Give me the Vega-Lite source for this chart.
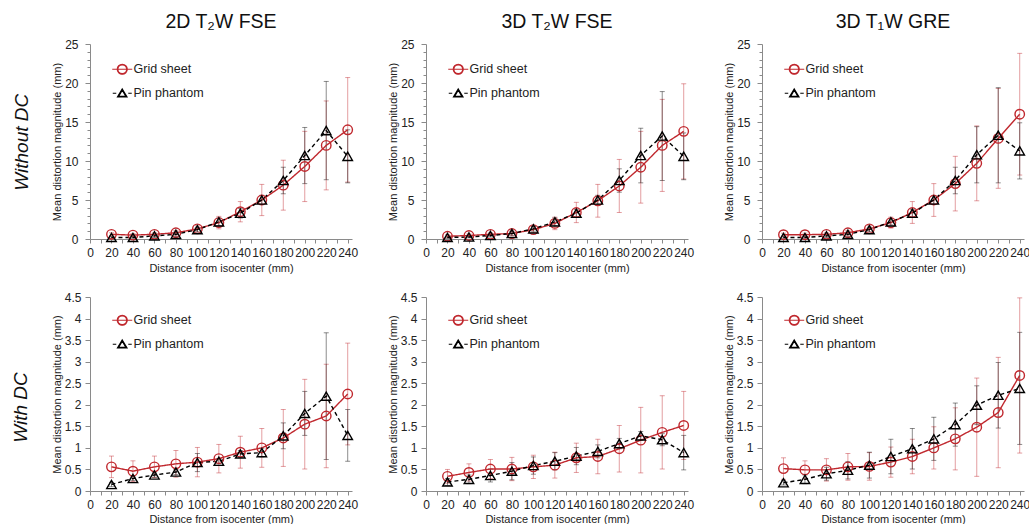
{
"$schema": "https://vega.github.io/schema/vega-lite/v6.json",
"padding": {"left": 12, "top": 11, "right": 0, "bottom": 0},
"config": {
  "font": "Liberation Sans",
  "view": {"stroke": null},
  "axis": {"grid": false, "labelFontSize": 12, "titleFontSize": 11, "titleFontWeight": "normal", "labelColor": "#222222", "titleColor": "#222222", "domainColor": "#8a8a8a", "tickColor": "#8a8a8a", "labelFont": "Liberation Sans", "titleFont": "Liberation Sans"},
  "title": {"fontSize": 19.5, "fontWeight": "normal", "color": "#111111", "offset": 6, "font": "Liberation Sans"}
},
"datasets": {"d": [
{"p":1,"s":"Grid sheet","d":20,"m":0.6,"e":0.2},{"p":1,"s":"Grid sheet","d":40,"m":0.5,"e":0.2},{"p":1,"s":"Grid sheet","d":60,"m":0.6,"e":0.2},{"p":1,"s":"Grid sheet","d":80,"m":0.8,"e":0.3},{"p":1,"s":"Grid sheet","d":100,"m":1.3,"e":0.4},{"p":1,"s":"Grid sheet","d":120,"m":2.1,"e":0.8},{"p":1,"s":"Grid sheet","d":140,"m":3.5,"e":1.3},{"p":1,"s":"Grid sheet","d":160,"m":5.0,"e":2.0},{"p":1,"s":"Grid sheet","d":180,"m":6.9,"e":3.2},{"p":1,"s":"Grid sheet","d":200,"m":9.3,"e":4.5},{"p":1,"s":"Grid sheet","d":220,"m":12.0,"e":5.7},{"p":1,"s":"Grid sheet","d":240,"m":14.0,"e":6.7},
{"p":1,"s":"Pin phantom","d":20,"m":0.2,"e":0.1},{"p":1,"s":"Pin phantom","d":40,"m":0.2,"e":0.1},{"p":1,"s":"Pin phantom","d":60,"m":0.4,"e":0.2},{"p":1,"s":"Pin phantom","d":80,"m":0.6,"e":0.3},{"p":1,"s":"Pin phantom","d":100,"m":1.2,"e":0.3},{"p":1,"s":"Pin phantom","d":120,"m":2.2,"e":0.5},{"p":1,"s":"Pin phantom","d":140,"m":3.3,"e":0.6},{"p":1,"s":"Pin phantom","d":160,"m":5.0,"e":0.6},{"p":1,"s":"Pin phantom","d":180,"m":7.5,"e":1.7},{"p":1,"s":"Pin phantom","d":200,"m":10.7,"e":3.6},{"p":1,"s":"Pin phantom","d":220,"m":13.9,"e":6.3},{"p":1,"s":"Pin phantom","d":240,"m":10.6,"e":3.4},
{"p":2,"s":"Grid sheet","d":20,"m":0.35,"e":0.2},{"p":2,"s":"Grid sheet","d":40,"m":0.45,"e":0.2},{"p":2,"s":"Grid sheet","d":60,"m":0.6,"e":0.2},{"p":2,"s":"Grid sheet","d":80,"m":0.7,"e":0.3},{"p":2,"s":"Grid sheet","d":100,"m":1.2,"e":0.4},{"p":2,"s":"Grid sheet","d":120,"m":2.0,"e":0.8},{"p":2,"s":"Grid sheet","d":140,"m":3.4,"e":1.3},{"p":2,"s":"Grid sheet","d":160,"m":4.9,"e":2.1},{"p":2,"s":"Grid sheet","d":180,"m":6.8,"e":3.4},{"p":2,"s":"Grid sheet","d":200,"m":9.2,"e":4.6},{"p":2,"s":"Grid sheet","d":220,"m":12.0,"e":5.9},{"p":2,"s":"Grid sheet","d":240,"m":13.8,"e":6.1},
{"p":2,"s":"Pin phantom","d":20,"m":0.2,"e":0.1},{"p":2,"s":"Pin phantom","d":40,"m":0.25,"e":0.1},{"p":2,"s":"Pin phantom","d":60,"m":0.45,"e":0.2},{"p":2,"s":"Pin phantom","d":80,"m":0.7,"e":0.3},{"p":2,"s":"Pin phantom","d":100,"m":1.3,"e":0.3},{"p":2,"s":"Pin phantom","d":120,"m":2.2,"e":0.5},{"p":2,"s":"Pin phantom","d":140,"m":3.3,"e":0.5},{"p":2,"s":"Pin phantom","d":160,"m":5.0,"e":0.6},{"p":2,"s":"Pin phantom","d":180,"m":7.5,"e":1.5},{"p":2,"s":"Pin phantom","d":200,"m":10.7,"e":3.5},{"p":2,"s":"Pin phantom","d":220,"m":13.2,"e":5.7},{"p":2,"s":"Pin phantom","d":240,"m":10.6,"e":3.0},
{"p":3,"s":"Grid sheet","d":20,"m":0.55,"e":0.2},{"p":3,"s":"Grid sheet","d":40,"m":0.55,"e":0.2},{"p":3,"s":"Grid sheet","d":60,"m":0.6,"e":0.2},{"p":3,"s":"Grid sheet","d":80,"m":0.8,"e":0.3},{"p":3,"s":"Grid sheet","d":100,"m":1.3,"e":0.4},{"p":3,"s":"Grid sheet","d":120,"m":2.1,"e":0.7},{"p":3,"s":"Grid sheet","d":140,"m":3.4,"e":1.4},{"p":3,"s":"Grid sheet","d":160,"m":5.0,"e":2.1},{"p":3,"s":"Grid sheet","d":180,"m":7.1,"e":3.5},{"p":3,"s":"Grid sheet","d":200,"m":9.7,"e":4.8},{"p":3,"s":"Grid sheet","d":220,"m":12.9,"e":6.4},{"p":3,"s":"Grid sheet","d":240,"m":16.0,"e":7.8},
{"p":3,"s":"Pin phantom","d":20,"m":0.2,"e":0.1},{"p":3,"s":"Pin phantom","d":40,"m":0.2,"e":0.1},{"p":3,"s":"Pin phantom","d":60,"m":0.4,"e":0.2},{"p":3,"s":"Pin phantom","d":80,"m":0.6,"e":0.3},{"p":3,"s":"Pin phantom","d":100,"m":1.2,"e":0.3},{"p":3,"s":"Pin phantom","d":120,"m":2.2,"e":0.4},{"p":3,"s":"Pin phantom","d":140,"m":3.3,"e":0.5},{"p":3,"s":"Pin phantom","d":160,"m":5.0,"e":0.5},{"p":3,"s":"Pin phantom","d":180,"m":7.5,"e":1.7},{"p":3,"s":"Pin phantom","d":200,"m":10.8,"e":3.6},{"p":3,"s":"Pin phantom","d":220,"m":13.3,"e":6.1},{"p":3,"s":"Pin phantom","d":240,"m":11.3,"e":3.6},
{"p":4,"s":"Grid sheet","d":20,"m":0.56,"e":0.25},{"p":4,"s":"Grid sheet","d":40,"m":0.46,"e":0.24},{"p":4,"s":"Grid sheet","d":60,"m":0.56,"e":0.25},{"p":4,"s":"Grid sheet","d":80,"m":0.63,"e":0.31},{"p":4,"s":"Grid sheet","d":100,"m":0.67,"e":0.34},{"p":4,"s":"Grid sheet","d":120,"m":0.75,"e":0.33},{"p":4,"s":"Grid sheet","d":140,"m":0.9,"e":0.37},{"p":4,"s":"Grid sheet","d":160,"m":1.0,"e":0.45},{"p":4,"s":"Grid sheet","d":180,"m":1.23,"e":0.66},{"p":4,"s":"Grid sheet","d":200,"m":1.55,"e":1.04},{"p":4,"s":"Grid sheet","d":220,"m":1.74,"e":1.2},{"p":4,"s":"Grid sheet","d":240,"m":2.25,"e":1.18},
{"p":4,"s":"Pin phantom","d":20,"m":0.15,"e":0.05},{"p":4,"s":"Pin phantom","d":40,"m":0.29,"e":0.05},{"p":4,"s":"Pin phantom","d":60,"m":0.37,"e":0.05},{"p":4,"s":"Pin phantom","d":80,"m":0.44,"e":0.06},{"p":4,"s":"Pin phantom","d":100,"m":0.66,"e":0.21},{"p":4,"s":"Pin phantom","d":120,"m":0.69,"e":0.06},{"p":4,"s":"Pin phantom","d":140,"m":0.86,"e":0.08},{"p":4,"s":"Pin phantom","d":160,"m":0.89,"e":0.1},{"p":4,"s":"Pin phantom","d":180,"m":1.28,"e":0.3},{"p":4,"s":"Pin phantom","d":200,"m":1.8,"e":0.51},{"p":4,"s":"Pin phantom","d":220,"m":2.2,"e":1.47},{"p":4,"s":"Pin phantom","d":240,"m":1.29,"e":0.6},
{"p":5,"s":"Grid sheet","d":20,"m":0.34,"e":0.16},{"p":5,"s":"Grid sheet","d":40,"m":0.43,"e":0.2},{"p":5,"s":"Grid sheet","d":60,"m":0.51,"e":0.22},{"p":5,"s":"Grid sheet","d":80,"m":0.51,"e":0.27},{"p":5,"s":"Grid sheet","d":100,"m":0.56,"e":0.27},{"p":5,"s":"Grid sheet","d":120,"m":0.6,"e":0.3},{"p":5,"s":"Grid sheet","d":140,"m":0.77,"e":0.34},{"p":5,"s":"Grid sheet","d":160,"m":0.8,"e":0.4},{"p":5,"s":"Grid sheet","d":180,"m":0.98,"e":0.54},{"p":5,"s":"Grid sheet","d":200,"m":1.18,"e":0.76},{"p":5,"s":"Grid sheet","d":220,"m":1.36,"e":0.85},{"p":5,"s":"Grid sheet","d":240,"m":1.52,"e":0.79},
{"p":5,"s":"Pin phantom","d":20,"m":0.21,"e":0.08},{"p":5,"s":"Pin phantom","d":40,"m":0.27,"e":0.1},{"p":5,"s":"Pin phantom","d":60,"m":0.36,"e":0.15},{"p":5,"s":"Pin phantom","d":80,"m":0.46,"e":0.2},{"p":5,"s":"Pin phantom","d":100,"m":0.59,"e":0.2},{"p":5,"s":"Pin phantom","d":120,"m":0.69,"e":0.2},{"p":5,"s":"Pin phantom","d":140,"m":0.81,"e":0.2},{"p":5,"s":"Pin phantom","d":160,"m":0.92,"e":0.15},{"p":5,"s":"Pin phantom","d":180,"m":1.1,"e":0.12},{"p":5,"s":"Pin phantom","d":200,"m":1.28,"e":0.1},{"p":5,"s":"Pin phantom","d":220,"m":1.19,"e":0.14},{"p":5,"s":"Pin phantom","d":240,"m":0.89,"e":0.4},
{"p":6,"s":"Grid sheet","d":20,"m":0.52,"e":0.25},{"p":6,"s":"Grid sheet","d":40,"m":0.49,"e":0.21},{"p":6,"s":"Grid sheet","d":60,"m":0.49,"e":0.26},{"p":6,"s":"Grid sheet","d":80,"m":0.56,"e":0.31},{"p":6,"s":"Grid sheet","d":100,"m":0.57,"e":0.32},{"p":6,"s":"Grid sheet","d":120,"m":0.67,"e":0.35},{"p":6,"s":"Grid sheet","d":140,"m":0.8,"e":0.4},{"p":6,"s":"Grid sheet","d":160,"m":1.0,"e":0.49},{"p":6,"s":"Grid sheet","d":180,"m":1.21,"e":0.72},{"p":6,"s":"Grid sheet","d":200,"m":1.48,"e":1.14},{"p":6,"s":"Grid sheet","d":220,"m":1.82,"e":1.28},{"p":6,"s":"Grid sheet","d":240,"m":2.68,"e":1.8},
{"p":6,"s":"Pin phantom","d":20,"m":0.19,"e":0.05},{"p":6,"s":"Pin phantom","d":40,"m":0.27,"e":0.1},{"p":6,"s":"Pin phantom","d":60,"m":0.4,"e":0.15},{"p":6,"s":"Pin phantom","d":80,"m":0.48,"e":0.2},{"p":6,"s":"Pin phantom","d":100,"m":0.6,"e":0.3},{"p":6,"s":"Pin phantom","d":120,"m":0.8,"e":0.4},{"p":6,"s":"Pin phantom","d":140,"m":0.98,"e":0.47},{"p":6,"s":"Pin phantom","d":160,"m":1.21,"e":0.5},{"p":6,"s":"Pin phantom","d":180,"m":1.54,"e":0.5},{"p":6,"s":"Pin phantom","d":200,"m":1.99,"e":0.45},{"p":6,"s":"Pin phantom","d":220,"m":2.22,"e":0.76},{"p":6,"s":"Pin phantom","d":240,"m":2.38,"e":1.3}
]},
"resolve": {"legend": {"color": "independent"}},
"spacing": 18,
"vconcat": [
{
 "title": {"text": "Without DC", "orient": "left", "fontSize": 19, "fontStyle": "italic", "fontWeight": "normal", "anchor": "middle", "offset": 20, "color": "#111111"},
 "spacing": 29,
 "resolve": {"legend": {"color": "independent"}},
 "hconcat": [
  {
   "title": {"text": "2D T₂W FSE"},
   "width": 262, "height": 195,
   "data": {"name": "d"},
   "transform": [{"filter": "datum.p == 1"}],
   "encoding": {
    "x": {"field": "d", "type": "quantitative", "scale": {"domain": [0, 244], "nice": false}, "axis": {"title": "Distance from isocenter (mm)", "values": [0,10,20,30,40,50,60,70,80,90,100,110,120,130,140,150,160,170,180,190,200,210,220,230,240], "labelExpr": "datum.value % 20 === 0 ? datum.label : ''", "labelOverlap": false, "labelFlush": false, "tickSize": 4, "labelPadding": 4, "titlePadding": 4}},
    "y": {"field": "m", "type": "quantitative", "title": "Mean distortion magnitude (mm)", "scale": {"domain": [0, 25], "nice": false}, "axis": {"title": "Mean distortion magnitude (mm)", "values": [0,1,2,3,4,5,6,7,8,9,10,11,12,13,14,15,16,17,18,19,20,21,22,23,24,25], "labelExpr": "datum.value % 5 === 0 ? datum.label : ''", "labelOverlap": false, "tickSize": {"condition": {"test": "datum.value % 5 === 0", "value": 5}, "value": 3}, "labelPadding": 7, "titlePadding": 2}},
    "color": {"field": "s", "type": "nominal", "scale": {"domain": ["Grid sheet", "Pin phantom"], "range": ["#c0282e", "#000000"]}, "legend": {"title": null, "orient": "none", "legendX": 26, "legendY": 19, "labelFontSize": 12.5, "labelColor": "#222222", "labelOffset": 5, "rowPadding": 9, "symbolSize": 100, "symbolStrokeWidth": 1.2, "padding": 0, "encode": {"symbols": {"update": {"shape": {"signal": "datum.value === 'Grid sheet' ? 'M-2,0H-1M1,0H2M1,0A1,1 0 1,1 -1,0A1,1 0 1,1 1,0ZM0.88,0A0.88,0.88 0 1,0 -0.88,0A0.88,0.88 0 1,0 0.88,0ZM-0.88,0H0.88' : 'M-1.9,0H-1.2M1.2,0H1.9M0,-0.85L0.95,0.75H-0.95ZM0,-0.6L-0.74,0.63H0.74Z'"}}}}}}
   },
   "layer": [
    {"mark": {"type": "errorbar", "ticks": {"size": 5}, "thickness": 1, "opacity": 0.45}, "encoding": {"yError": {"field": "e"}}},
    {"mark": {"type": "line", "strokeWidth": 1.4}, "encoding": {"strokeDash": {"field": "s", "type": "nominal", "scale": {"domain": ["Grid sheet", "Pin phantom"], "range": [[1, 0], [4, 3]]}, "legend": null}}},
    {"mark": {"type": "point", "filled": false, "size": 90, "strokeWidth": 1.4, "opacity": 1}, "encoding": {"shape": {"field": "s", "type": "nominal", "scale": {"domain": ["Grid sheet", "Pin phantom"], "range": ["circle", "triangle-up"]}, "legend": null}}}
   ]
  },
  {
   "title": {"text": "3D T₂W FSE"},
   "width": 262, "height": 195,
   "data": {"name": "d"},
   "transform": [{"filter": "datum.p == 2"}],
   "encoding": {
    "x": {"field": "d", "type": "quantitative", "scale": {"domain": [0, 244], "nice": false}, "axis": {"title": "Distance from isocenter (mm)", "values": [0,10,20,30,40,50,60,70,80,90,100,110,120,130,140,150,160,170,180,190,200,210,220,230,240], "labelExpr": "datum.value % 20 === 0 ? datum.label : ''", "labelOverlap": false, "labelFlush": false, "tickSize": 4, "labelPadding": 4, "titlePadding": 4}},
    "y": {"field": "m", "type": "quantitative", "title": "Mean distortion magnitude (mm)", "scale": {"domain": [0, 25], "nice": false}, "axis": {"title": "Mean distortion magnitude (mm)", "values": [0,1,2,3,4,5,6,7,8,9,10,11,12,13,14,15,16,17,18,19,20,21,22,23,24,25], "labelExpr": "datum.value % 5 === 0 ? datum.label : ''", "labelOverlap": false, "tickSize": {"condition": {"test": "datum.value % 5 === 0", "value": 5}, "value": 3}, "labelPadding": 7, "titlePadding": 2}},
    "color": {"field": "s", "type": "nominal", "scale": {"domain": ["Grid sheet", "Pin phantom"], "range": ["#c0282e", "#000000"]}, "legend": {"title": null, "orient": "none", "legendX": 26, "legendY": 19, "labelFontSize": 12.5, "labelColor": "#222222", "labelOffset": 5, "rowPadding": 9, "symbolSize": 100, "symbolStrokeWidth": 1.2, "padding": 0, "encode": {"symbols": {"update": {"shape": {"signal": "datum.value === 'Grid sheet' ? 'M-2,0H-1M1,0H2M1,0A1,1 0 1,1 -1,0A1,1 0 1,1 1,0ZM0.88,0A0.88,0.88 0 1,0 -0.88,0A0.88,0.88 0 1,0 0.88,0ZM-0.88,0H0.88' : 'M-1.9,0H-1.2M1.2,0H1.9M0,-0.85L0.95,0.75H-0.95ZM0,-0.6L-0.74,0.63H0.74Z'"}}}}}}
   },
   "layer": [
    {"mark": {"type": "errorbar", "ticks": {"size": 5}, "thickness": 1, "opacity": 0.45}, "encoding": {"yError": {"field": "e"}}},
    {"mark": {"type": "line", "strokeWidth": 1.4}, "encoding": {"strokeDash": {"field": "s", "type": "nominal", "scale": {"domain": ["Grid sheet", "Pin phantom"], "range": [[1, 0], [4, 3]]}, "legend": null}}},
    {"mark": {"type": "point", "filled": false, "size": 90, "strokeWidth": 1.4, "opacity": 1}, "encoding": {"shape": {"field": "s", "type": "nominal", "scale": {"domain": ["Grid sheet", "Pin phantom"], "range": ["circle", "triangle-up"]}, "legend": null}}}
   ]
  },
  {
   "title": {"text": "3D T₁W GRE"},
   "width": 262, "height": 195,
   "data": {"name": "d"},
   "transform": [{"filter": "datum.p == 3"}],
   "encoding": {
    "x": {"field": "d", "type": "quantitative", "scale": {"domain": [0, 244], "nice": false}, "axis": {"title": "Distance from isocenter (mm)", "values": [0,10,20,30,40,50,60,70,80,90,100,110,120,130,140,150,160,170,180,190,200,210,220,230,240], "labelExpr": "datum.value % 20 === 0 ? datum.label : ''", "labelOverlap": false, "labelFlush": false, "tickSize": 4, "labelPadding": 4, "titlePadding": 4}},
    "y": {"field": "m", "type": "quantitative", "title": "Mean distortion magnitude (mm)", "scale": {"domain": [0, 25], "nice": false}, "axis": {"title": "Mean distortion magnitude (mm)", "values": [0,1,2,3,4,5,6,7,8,9,10,11,12,13,14,15,16,17,18,19,20,21,22,23,24,25], "labelExpr": "datum.value % 5 === 0 ? datum.label : ''", "labelOverlap": false, "tickSize": {"condition": {"test": "datum.value % 5 === 0", "value": 5}, "value": 3}, "labelPadding": 7, "titlePadding": 2}},
    "color": {"field": "s", "type": "nominal", "scale": {"domain": ["Grid sheet", "Pin phantom"], "range": ["#c0282e", "#000000"]}, "legend": {"title": null, "orient": "none", "legendX": 26, "legendY": 19, "labelFontSize": 12.5, "labelColor": "#222222", "labelOffset": 5, "rowPadding": 9, "symbolSize": 100, "symbolStrokeWidth": 1.2, "padding": 0, "encode": {"symbols": {"update": {"shape": {"signal": "datum.value === 'Grid sheet' ? 'M-2,0H-1M1,0H2M1,0A1,1 0 1,1 -1,0A1,1 0 1,1 1,0ZM0.88,0A0.88,0.88 0 1,0 -0.88,0A0.88,0.88 0 1,0 0.88,0ZM-0.88,0H0.88' : 'M-1.9,0H-1.2M1.2,0H1.9M0,-0.85L0.95,0.75H-0.95ZM0,-0.6L-0.74,0.63H0.74Z'"}}}}}}
   },
   "layer": [
    {"mark": {"type": "errorbar", "ticks": {"size": 5}, "thickness": 1, "opacity": 0.45}, "encoding": {"yError": {"field": "e"}}},
    {"mark": {"type": "line", "strokeWidth": 1.4}, "encoding": {"strokeDash": {"field": "s", "type": "nominal", "scale": {"domain": ["Grid sheet", "Pin phantom"], "range": [[1, 0], [4, 3]]}, "legend": null}}},
    {"mark": {"type": "point", "filled": false, "size": 90, "strokeWidth": 1.4, "opacity": 1}, "encoding": {"shape": {"field": "s", "type": "nominal", "scale": {"domain": ["Grid sheet", "Pin phantom"], "range": ["circle", "triangle-up"]}, "legend": null}}}
   ]
  }
 ]
},
{
 "title": {"text": "With DC", "orient": "left", "fontSize": 19, "fontStyle": "italic", "fontWeight": "normal", "anchor": "middle", "offset": 20, "color": "#111111"},
 "spacing": 29,
 "resolve": {"legend": {"color": "independent"}},
 "hconcat": [
  {
   "width": 262, "height": 194,
   "data": {"name": "d"},
   "transform": [{"filter": "datum.p == 4"}],
   "encoding": {
    "x": {"field": "d", "type": "quantitative", "scale": {"domain": [0, 244], "nice": false}, "axis": {"title": "Distance from isocenter (mm)", "values": [0,10,20,30,40,50,60,70,80,90,100,110,120,130,140,150,160,170,180,190,200,210,220,230,240], "labelExpr": "datum.value % 20 === 0 ? datum.label : ''", "labelOverlap": false, "labelFlush": false, "tickSize": 4, "labelPadding": 4, "titlePadding": 3}},
    "y": {"field": "m", "type": "quantitative", "title": "Mean distortion magnitude (mm)", "scale": {"domain": [0, 4.5], "nice": false}, "axis": {"title": "Mean distortion magnitude (mm)", "values": [0,0.5,1,1.5,2,2.5,3,3.5,4,4.5], "format": "~g", "labelOverlap": false, "tickSize": 5, "labelPadding": 4, "titlePadding": 2}},
    "color": {"field": "s", "type": "nominal", "scale": {"domain": ["Grid sheet", "Pin phantom"], "range": ["#c0282e", "#000000"]}, "legend": {"title": null, "orient": "none", "legendX": 26, "legendY": 17, "labelFontSize": 12.5, "labelColor": "#222222", "labelOffset": 5, "rowPadding": 9, "symbolSize": 100, "symbolStrokeWidth": 1.2, "padding": 0, "encode": {"symbols": {"update": {"shape": {"signal": "datum.value === 'Grid sheet' ? 'M-2,0H-1M1,0H2M1,0A1,1 0 1,1 -1,0A1,1 0 1,1 1,0ZM0.88,0A0.88,0.88 0 1,0 -0.88,0A0.88,0.88 0 1,0 0.88,0ZM-0.88,0H0.88' : 'M-1.9,0H-1.2M1.2,0H1.9M0,-0.85L0.95,0.75H-0.95ZM0,-0.6L-0.74,0.63H0.74Z'"}}}}}}
   },
   "layer": [
    {"mark": {"type": "errorbar", "ticks": {"size": 5}, "thickness": 1, "opacity": 0.45}, "encoding": {"yError": {"field": "e"}}},
    {"mark": {"type": "line", "strokeWidth": 1.4}, "encoding": {"strokeDash": {"field": "s", "type": "nominal", "scale": {"domain": ["Grid sheet", "Pin phantom"], "range": [[1, 0], [4, 3]]}, "legend": null}}},
    {"mark": {"type": "point", "filled": false, "size": 90, "strokeWidth": 1.4, "opacity": 1}, "encoding": {"shape": {"field": "s", "type": "nominal", "scale": {"domain": ["Grid sheet", "Pin phantom"], "range": ["circle", "triangle-up"]}, "legend": null}}}
   ]
  },
  {
   "width": 262, "height": 194,
   "data": {"name": "d"},
   "transform": [{"filter": "datum.p == 5"}],
   "encoding": {
    "x": {"field": "d", "type": "quantitative", "scale": {"domain": [0, 244], "nice": false}, "axis": {"title": "Distance from isocenter (mm)", "values": [0,10,20,30,40,50,60,70,80,90,100,110,120,130,140,150,160,170,180,190,200,210,220,230,240], "labelExpr": "datum.value % 20 === 0 ? datum.label : ''", "labelOverlap": false, "labelFlush": false, "tickSize": 4, "labelPadding": 4, "titlePadding": 3}},
    "y": {"field": "m", "type": "quantitative", "title": "Mean distortion magnitude (mm)", "scale": {"domain": [0, 4.5], "nice": false}, "axis": {"title": "Mean distortion magnitude (mm)", "values": [0,0.5,1,1.5,2,2.5,3,3.5,4,4.5], "format": "~g", "labelOverlap": false, "tickSize": 5, "labelPadding": 4, "titlePadding": 2}},
    "color": {"field": "s", "type": "nominal", "scale": {"domain": ["Grid sheet", "Pin phantom"], "range": ["#c0282e", "#000000"]}, "legend": {"title": null, "orient": "none", "legendX": 26, "legendY": 17, "labelFontSize": 12.5, "labelColor": "#222222", "labelOffset": 5, "rowPadding": 9, "symbolSize": 100, "symbolStrokeWidth": 1.2, "padding": 0, "encode": {"symbols": {"update": {"shape": {"signal": "datum.value === 'Grid sheet' ? 'M-2,0H-1M1,0H2M1,0A1,1 0 1,1 -1,0A1,1 0 1,1 1,0ZM0.88,0A0.88,0.88 0 1,0 -0.88,0A0.88,0.88 0 1,0 0.88,0ZM-0.88,0H0.88' : 'M-1.9,0H-1.2M1.2,0H1.9M0,-0.85L0.95,0.75H-0.95ZM0,-0.6L-0.74,0.63H0.74Z'"}}}}}}
   },
   "layer": [
    {"mark": {"type": "errorbar", "ticks": {"size": 5}, "thickness": 1, "opacity": 0.45}, "encoding": {"yError": {"field": "e"}}},
    {"mark": {"type": "line", "strokeWidth": 1.4}, "encoding": {"strokeDash": {"field": "s", "type": "nominal", "scale": {"domain": ["Grid sheet", "Pin phantom"], "range": [[1, 0], [4, 3]]}, "legend": null}}},
    {"mark": {"type": "point", "filled": false, "size": 90, "strokeWidth": 1.4, "opacity": 1}, "encoding": {"shape": {"field": "s", "type": "nominal", "scale": {"domain": ["Grid sheet", "Pin phantom"], "range": ["circle", "triangle-up"]}, "legend": null}}}
   ]
  },
  {
   "width": 262, "height": 194,
   "data": {"name": "d"},
   "transform": [{"filter": "datum.p == 6"}],
   "encoding": {
    "x": {"field": "d", "type": "quantitative", "scale": {"domain": [0, 244], "nice": false}, "axis": {"title": "Distance from isocenter (mm)", "values": [0,10,20,30,40,50,60,70,80,90,100,110,120,130,140,150,160,170,180,190,200,210,220,230,240], "labelExpr": "datum.value % 20 === 0 ? datum.label : ''", "labelOverlap": false, "labelFlush": false, "tickSize": 4, "labelPadding": 4, "titlePadding": 3}},
    "y": {"field": "m", "type": "quantitative", "title": "Mean distortion magnitude (mm)", "scale": {"domain": [0, 4.5], "nice": false}, "axis": {"title": "Mean distortion magnitude (mm)", "values": [0,0.5,1,1.5,2,2.5,3,3.5,4,4.5], "format": "~g", "labelOverlap": false, "tickSize": 5, "labelPadding": 4, "titlePadding": 2}},
    "color": {"field": "s", "type": "nominal", "scale": {"domain": ["Grid sheet", "Pin phantom"], "range": ["#c0282e", "#000000"]}, "legend": {"title": null, "orient": "none", "legendX": 26, "legendY": 17, "labelFontSize": 12.5, "labelColor": "#222222", "labelOffset": 5, "rowPadding": 9, "symbolSize": 100, "symbolStrokeWidth": 1.2, "padding": 0, "encode": {"symbols": {"update": {"shape": {"signal": "datum.value === 'Grid sheet' ? 'M-2,0H-1M1,0H2M1,0A1,1 0 1,1 -1,0A1,1 0 1,1 1,0ZM0.88,0A0.88,0.88 0 1,0 -0.88,0A0.88,0.88 0 1,0 0.88,0ZM-0.88,0H0.88' : 'M-1.9,0H-1.2M1.2,0H1.9M0,-0.85L0.95,0.75H-0.95ZM0,-0.6L-0.74,0.63H0.74Z'"}}}}}}
   },
   "layer": [
    {"mark": {"type": "errorbar", "ticks": {"size": 5}, "thickness": 1, "opacity": 0.45}, "encoding": {"yError": {"field": "e"}}},
    {"mark": {"type": "line", "strokeWidth": 1.4}, "encoding": {"strokeDash": {"field": "s", "type": "nominal", "scale": {"domain": ["Grid sheet", "Pin phantom"], "range": [[1, 0], [4, 3]]}, "legend": null}}},
    {"mark": {"type": "point", "filled": false, "size": 90, "strokeWidth": 1.4, "opacity": 1}, "encoding": {"shape": {"field": "s", "type": "nominal", "scale": {"domain": ["Grid sheet", "Pin phantom"], "range": ["circle", "triangle-up"]}, "legend": null}}}
   ]
  }
 ]
}
]
}
